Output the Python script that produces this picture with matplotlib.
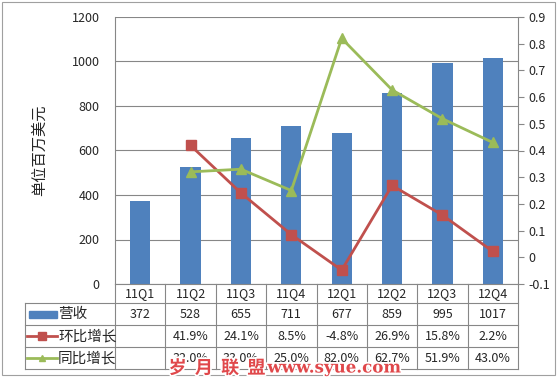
import numpy as np
import matplotlib
matplotlib.use('Agg')
import matplotlib.pyplot as plt
import matplotlib.patheffects as pe
from matplotlib.lines import Line2D
from matplotlib.patches import Rectangle
import matplotlib.transforms as mtransforms

plt.rcParams['font.family'] = ['Noto Sans CJK SC', 'DejaVu Sans']

quarters = ['11Q1', '11Q2', '11Q3', '11Q4', '12Q1', '12Q2', '12Q3', '12Q4']
revenue = [372, 528, 655, 711, 677, 859, 995, 1017]
qoq = [np.nan, 0.419, 0.241, 0.085, -0.048, 0.269, 0.158, 0.022]
yoy = [np.nan, 0.320, 0.330, 0.250, 0.820, 0.627, 0.519, 0.430]
series_names = ['营收', '环比增长', '同比增长']

blue = '#4F81BD'
red = '#C0504D'
green = '#9BBB59'
grid_c = '#878787'
txt_c = '#262626'

W, H = 560, 378
fig = plt.figure(figsize=(W / 100, H / 100), dpi=100)

def fx(px):
    return px / W

def fy(py):
    return 1 - py / H

ax_l, ax_r, ax_t, ax_b = 115, 518, 17, 284
ax = fig.add_axes([fx(ax_l), fy(ax_b), fx(ax_r - ax_l), (ax_b - ax_t) / H])
x = np.arange(len(quarters))

ax.bar(x, revenue, width=0.4, color=blue, zorder=2)
ax.set_xlim(-0.5, len(quarters) - 0.5)
ax.set_ylim(0, 1200)
ax.set_yticks(range(0, 1201, 200))
ax.yaxis.grid(True, color=grid_c, linewidth=0.8, zorder=0)
ax.tick_params(axis='y', length=0, labelsize=9, colors=txt_c, pad=11)
ax.set_xticks([])
for s in ['top', 'right', 'bottom']:
    ax.spines[s].set_visible(False)
ax.spines['left'].set_color(grid_c)
ax.set_ylabel('单位百万美元', fontsize=11, color=txt_c, labelpad=17)

ax2 = ax.twinx()
ax2.plot(x, qoq, color=red, linewidth=2, marker='s', markersize=7, zorder=3)
ax2.plot(x, yoy, color=green, linewidth=2, marker='^', markersize=7, zorder=3)
ax2.set_ylim(-0.1, 0.9)
rticks = np.round(np.arange(-0.1, 0.91, 0.1), 1)
ax2.set_yticks(rticks)
ax2.set_yticklabels(['%g' % v for v in rticks])
ax2.tick_params(axis='y', labelsize=9, colors=txt_c, length=4, color=grid_c)
for s in ['top', 'left', 'bottom']:
    ax2.spines[s].set_visible(False)
ax2.spines['right'].set_color(grid_c)

# data table under the axes
trans = mtransforms.blended_transform_factory(ax.transData, fig.transFigure)
row_y = [284, 303, 325, 347, 369]
tbl_left = 25
line_kw = dict(color=grid_c, linewidth=0.8)
for yy in row_y:
    x0 = ax_l if yy == 284 else tbl_left
    fig.add_artist(Line2D([fx(x0), fx(ax_r)], [fy(yy), fy(yy)], **line_kw))
fig.add_artist(Line2D([fx(tbl_left), fx(tbl_left)], [fy(303), fy(369)], **line_kw))
for i in range(len(quarters) + 1):
    fig.add_artist(Line2D([i - 0.5, i - 0.5], [fy(284), fy(369)], transform=trans, **line_kw))

def pct(v):
    return '' if np.isnan(v) else '%.1f%%' % (v * 100)

rows = [quarters, [str(v) for v in revenue], [pct(v) for v in qoq], [pct(v) for v in yoy]]
for r, vals in enumerate(rows):
    yc = (row_y[r] + row_y[r + 1]) / 2
    for i, t in enumerate(vals):
        fig.text(i, fy(yc), t, transform=trans, ha='center', va='center', fontsize=9, color=txt_c)

# legend keys in the row headers
for r, name in enumerate(series_names):
    yc = (row_y[r + 1] + row_y[r + 2]) / 2
    if r == 0:
        fig.add_artist(Rectangle((fx(29), fy(yc + 3.5)), fx(28), 7 / H, color=blue))
    else:
        c = red if r == 1 else green
        m = 's' if r == 1 else '^'
        fig.add_artist(Line2D([fx(27), fx(57)], [fy(yc), fy(yc)], color=c, linewidth=2))
        fig.add_artist(Line2D([fx(42)], [fy(yc)], color=c, marker=m, markersize=6 if r == 1 else 5))
    fig.text(fx(58), fy(yc), name, ha='left', va='center', fontsize=10.5, color=txt_c)

# outer frame
fig.add_artist(Rectangle((fx(2), fy(375)), fx(553), 373 / H, fill=False, edgecolor='#a0a0a0', linewidth=0.8))

# watermark
wm_fx = [pe.withStroke(linewidth=2.5, foreground='white')]
fig.text(fx(217), fy(368), '岁  月  联  盟', ha='center', va='center', fontsize=13,
         color='#E0484B', fontweight='bold', path_effects=wm_fx)
fig.text(fx(334), fy(368), 'www.syue.com', ha='center', va='center', fontsize=12,
         color='#E0484B', fontweight='bold', family='DejaVu Serif', path_effects=wm_fx)

fig.savefig('out.png', dpi=100)
